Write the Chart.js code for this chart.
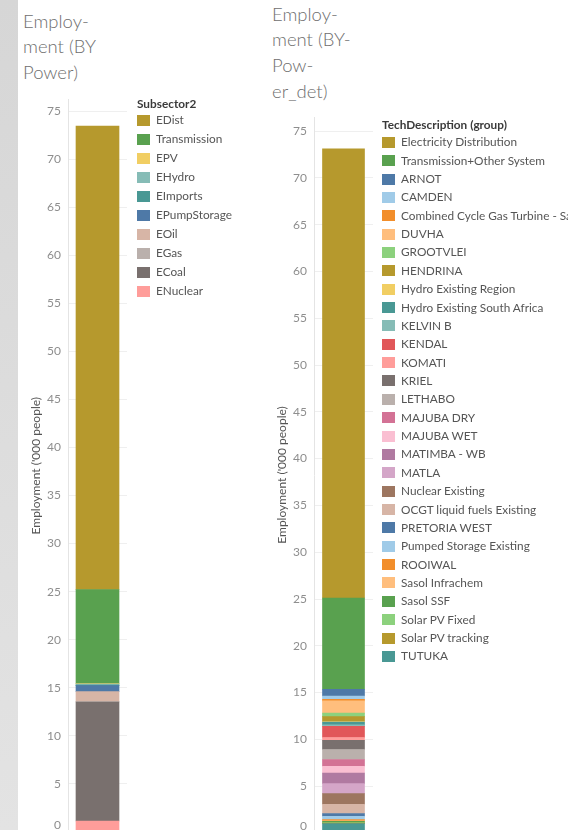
<!DOCTYPE html>
<html>
<head>
<meta charset="utf-8">
<title>Employment</title>
<script src="https://cdn.jsdelivr.net/npm/chart.js@4.4.1/dist/chart.umd.min.js"></script>
<style>
  html, body { margin: 0; padding: 0; width: 568px; height: 830px; overflow: hidden; background: #fff; }
  body { position: relative; font-family: Lato, "Open Sans", sans-serif; }
  .strip { position: absolute; left: 0; top: 0; width: 18px; height: 830px;
           background: linear-gradient(to bottom, #d6d6d6, #e3e3e3); }
  .title { position: absolute; font-family: Lato, sans-serif; font-weight: 300; font-size: 18.5px;
           line-height: 25.7px; color: #6e6e6e; white-space: nowrap; }
  canvas { position: absolute; top: 0; }
  .legend { position: absolute; left: 0; top: 0; font-size: 11.8px; color: #555; }
  .legend .head { position: absolute; white-space: nowrap; color: #3a3a3a; font-weight: bold; line-height: 14px; }
  .legend .item { position: absolute; white-space: nowrap; line-height: 14px; height: 14px; }
  .legend .sw { position: absolute; left: 0; top: 1.5px; width: 13px; height: 11px; }
  .legend .txt { position: absolute; left: 19px; top: 0; }
</style>
</head>
<body>
<div class="strip"></div>
<div class="title" style="left:23px; top:8.5px;">Employ-<br>ment (BY<br>Power)</div>
<div class="title" style="left:272px; top:1.5px;">Employ-<br>ment (BY-<br>Pow-<br>er_det)</div>
<canvas id="powerChart" width="260" height="840" style="left:0;"></canvas>
<canvas id="detChart" width="308" height="840" style="left:260px;"></canvas>
<div id="powerLegend" class="legend"></div>
<div id="detLegend" class="legend"></div>

<script>
// employment by power subsector, '000 people (stack runs top to bottom)
const powerGroups = ['EDist', 'Transmission', 'EPV', 'EHydro', 'EImports', 'EPumpStorage',
  'EOil', 'EGas', 'ECoal', 'ENuclear'];
const powerValues = [48.2, 9.8, 0.05, 0.1, 0.05, 0.62, 1.04, 0.05, 12.38, 1.14];
const powerColors = ['#b6992d', '#59a14f', '#f1ce63', '#86bcb6', '#499894', '#4e79a7',
  '#d7b5a6', '#bab0ac', '#79706e', '#ff9d9a'];

// employment by plant / technology, '000 people
const detGroups = ['Electricity Distribution', 'Transmission+Other System', 'ARNOT', 'CAMDEN',
  'Combined Cycle Gas Turbine - Sasol', 'DUVHA', 'GROOTVLEI', 'HENDRINA', 'Hydro Existing Region',
  'Hydro Existing South Africa', 'KELVIN B', 'KENDAL', 'KOMATI', 'KRIEL', 'LETHABO', 'MAJUBA DRY',
  'MAJUBA WET', 'MATIMBA - WB', 'MATLA', 'Nuclear Existing', 'OCGT liquid fuels Existing',
  'PRETORIA WEST', 'Pumped Storage Existing', 'ROOIWAL', 'Sasol Infrachem', 'Sasol SSF',
  'Solar PV Fixed', 'Solar PV tracking', 'TUTUKA'];
const detValues = [48.0, 9.75, 0.72, 0.35, 0.18, 1.31, 0.36, 0.53, 0.05,
  0.3, 0.16, 1.2, 0.29, 0.99, 1.07, 0.72,
  0.72, 1.13, 1.07, 1.14, 0.99,
  0.29, 0.35, 0.13, 0.05, 0.16,
  0.05, 0.05, 1.0];
const detColors = ['#b6992d', '#59a14f', '#4e79a7', '#a0cbe8', '#f28e2b', '#ffbe7d', '#8cd17d',
  '#b6992d', '#f1ce63', '#499894', '#86bcb6', '#e15759', '#ff9d9a', '#79706e', '#bab0ac',
  '#d37295', '#fabfd2', '#b07aa1', '#d4a6c8', '#9d7660', '#d7b5a6', '#4e79a7', '#a0cbe8',
  '#f28e2b', '#ffbe7d', '#59a14f', '#8cd17d', '#b6992d', '#499894'];

const yTickValues = [0, 5, 10, 15, 20, 25, 30, 35, 40, 45, 50, 55, 60, 65, 70, 75];
const yTitle = "Employment ('000 people)";

function makeChart(id, names, values, colors, cfg) {
  // first dataset sits at the bottom of the stack, so feed them in reverse
  const datasets = names.map((name, i) => ({
    label: name,
    data: [values[i]],
    backgroundColor: colors[i],
    borderWidth: 0,
    barThickness: cfg.barThickness
  })).reverse();

  return new Chart(document.getElementById(id), {
    type: 'bar',
    data: { labels: [''], datasets: datasets },
    options: {
      responsive: false,
      devicePixelRatio: 1,
      animation: false,
      layout: { padding: cfg.padding },
      plugins: { legend: { display: false }, tooltip: { enabled: false } },
      scales: {
        x: { stacked: true, display: false },
        y: {
          stacked: true,
          min: 0,
          max: cfg.max,
          afterBuildTicks: axis => { axis.ticks = yTickValues.map(v => ({ value: v })); },
          afterFit: axis => {
            axis.width = cfg.axisWidth;
            // keep the plot height fixed by the layout padding alone
            axis.paddingTop = 0;
            axis.paddingBottom = 0;
          },
          grid: { color: '#efefef', drawTicks: false },
          border: { color: '#e4e4e4' },
          ticks: {
            color: '#8e8e8e',
            padding: 7,
            font: { family: 'Lato', size: 12 },
            // lift the bottom label so it stays inside the pane
            callback: v => v === 0 ? ['0', ''] : String(v)
          },
          title: {
            display: true,
            text: yTitle,
            color: '#555',
            padding: { top: 4, bottom: 4 },
            font: { family: 'Lato', size: 12 }
          }
        }
      }
    }
  });
}

function buildLegend(id, title, names, colors, pos) {
  const box = document.getElementById(id);
  const head = document.createElement('div');
  head.className = 'head';
  head.textContent = title;
  head.style.left = pos.x + 'px';
  head.style.top = (pos.titleY - 7) + 'px';
  box.appendChild(head);
  names.forEach((name, i) => {
    const item = document.createElement('div');
    item.className = 'item';
    item.style.left = pos.x + 'px';
    item.style.top = (pos.firstY + i * pos.step - 7) + 'px';
    const sw = document.createElement('span');
    sw.className = 'sw';
    sw.style.background = colors[i];
    const txt = document.createElement('span');
    txt.className = 'txt';
    txt.textContent = name;
    item.appendChild(sw);
    item.appendChild(txt);
    box.appendChild(item);
  });
}

makeChart('powerChart', powerGroups, powerValues, powerColors, {
  max: 76.2, axisWidth: 43, barThickness: 43,
  padding: { left: 25, top: 99.5, right: 133, bottom: 8 }
});
makeChart('detChart', detGroups, detValues, detColors, {
  max: 76.5, axisWidth: 43, barThickness: 42,
  padding: { left: 11, top: 117, right: 195, bottom: 7 }
});

buildLegend('powerLegend', 'Subsector2', powerGroups, powerColors,
  { x: 137, titleY: 104, firstY: 120, step: 19 });
buildLegend('detLegend', 'TechDescription (group)', detGroups, detColors,
  { x: 382, titleY: 125, firstY: 142.3, step: 18.36 });
</script>
</body>
</html>
